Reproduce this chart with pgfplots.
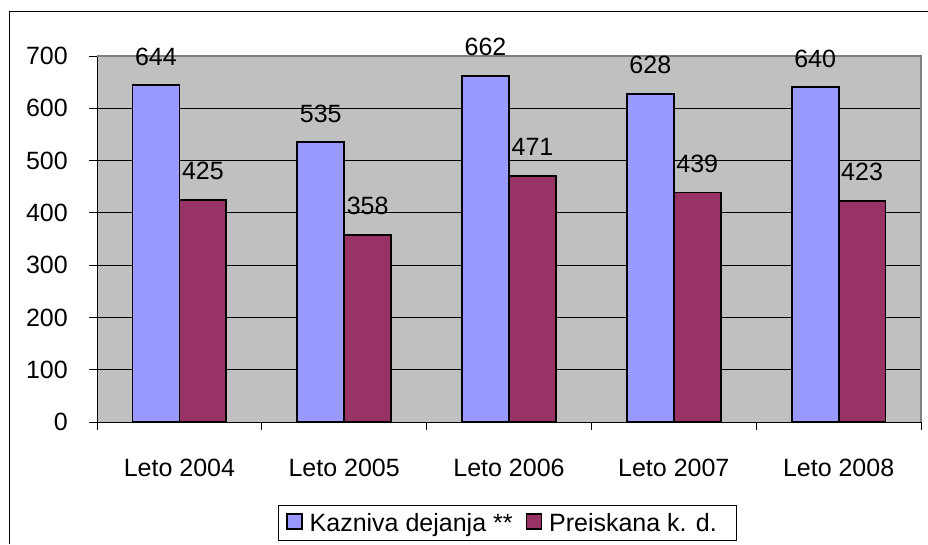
\documentclass[border=0pt]{standalone}
\usepackage{pgfplots}
\pgfplotsset{compat=1.18}
\usepackage{fontspec}
\setmainfont{Liberation Sans}
\definecolor{bgray}{HTML}{C0C0C0}
\definecolor{bordergray}{HTML}{808080}
\definecolor{cblue}{HTML}{9999FF}
\definecolor{cred}{HTML}{993366}
\pgfplotsset{mylegend/.style={legend image code/.code={\draw[##1, draw=black, line width=1.5pt] (0pt,-6pt) rectangle (15pt,9pt);}}}
\begin{document}
\begin{tikzpicture}
\begin{axis}[
  at={(97pt,122pt)}, anchor=south west,
  scale only axis, width=824pt, height=366pt,
  ybar=0pt, bar width=0.285,
  xmin=-0.5, xmax=4.5, ymin=0, ymax=700,
  ytick={0,100,...,700},
  xtick={0,1,2,3,4},
  xticklabels={Leto 2004,Leto 2005,Leto 2006,Leto 2007,Leto 2008},
  minor xtick={-0.5,0.5,1.5,2.5,3.5,4.5},
  major x tick style={draw=none},
  tick align=outside, major tick length=8pt, minor tick length=8pt,
  tick style={black, line width=0.8pt},
  ymajorgrids, grid style={black, line width=0.8pt},
  axis lines*=left, axis line style={black, line width=0.9pt},
  axis background/.style={fill=bgray},
  clip=false,
  font=\fontsize{25}{30}\selectfont,
  /pgf/number format/assume math mode=true,
  yticklabel style={anchor=east, inner sep=0pt, xshift=-21pt},
  xticklabel style={anchor=north, inner sep=0pt, yshift=-29pt},
  nodes near coords,
  nodes near coords style={anchor=south, inner sep=0pt, yshift=19pt, font=\fontsize{25}{30}\selectfont, black},
  legend columns=2,
  legend style={at={(0.4982,-0.276)}, anchor=center, draw=black, line width=0.8pt,
    inner xsep=8pt, inner ysep=8pt, nodes={inner sep=0pt},
    font=\fontsize{25}{30}\selectfont,
    /tikz/every odd column/.append style={column sep=7pt},
    /tikz/every even column/.append style={column sep=13pt}},
]
\addplot[fill=cblue, draw=black, line width=1.8pt, mylegend] coordinates {(0,644) (1,535) (2,662) (3,628) (4,640)};
\addplot[fill=cred, draw=black, line width=1.8pt, mylegend] coordinates {(0,425) (1,358) (2,471) (3,439) (4,423)};
\legend{Kazniva dejanja **, Preiskana k. d.\hspace*{12pt}}
\draw[bordergray, line width=1.2pt] (rel axis cs:0,1) -- (rel axis cs:1,1) -- (rel axis cs:1,0);
\end{axis}
\draw[line width=1pt] (9pt,0pt) -- (9pt,532pt) -- (928pt,532pt);
\pgfresetboundingbox
\path (0pt,0pt) rectangle (928pt,544pt);
\end{tikzpicture}
\end{document}
